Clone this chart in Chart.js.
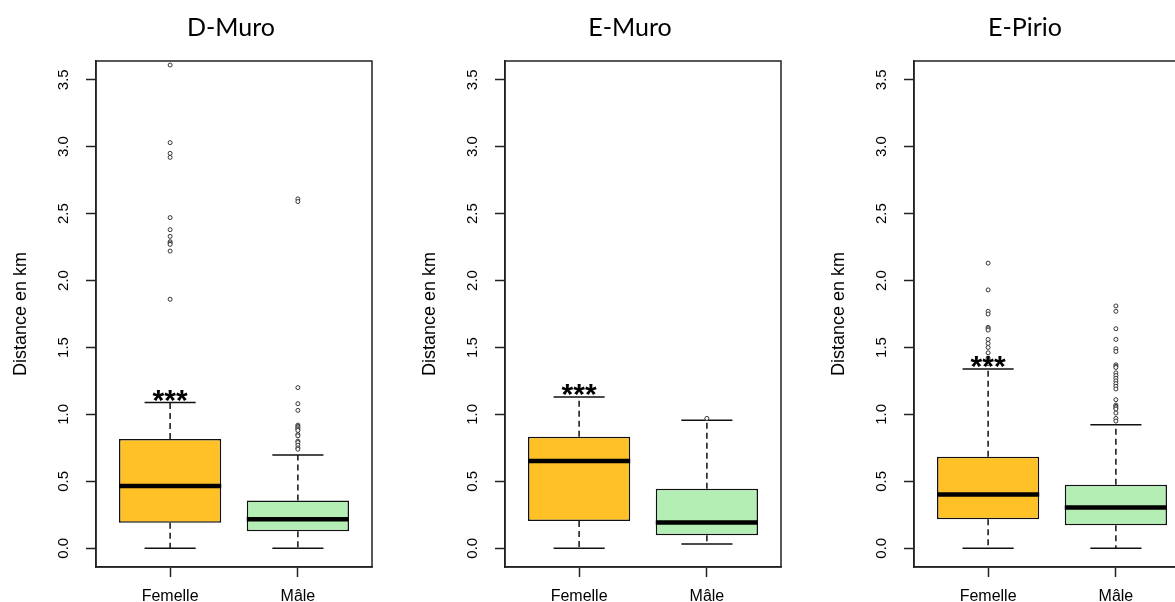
<!DOCTYPE html>
<html>
<head>
<meta charset="utf-8">
<title>Distance en km</title>
<script src="https://cdn.jsdelivr.net/npm/chart.js@4.4.1/dist/chart.umd.min.js"></script>
<style>
  html, body { margin: 0; padding: 0; background: #fff; overflow: hidden; width: 1175px; height: 602px; }
  canvas { position: absolute; top: 0; }
</style>
</head>
<body>
<canvas id="c0" width="409" height="602" style="left:0px"></canvas>
<canvas id="c1" width="409" height="602" style="left:409px"></canvas>
<canvas id="c2" width="409" height="602" style="left:818px"></canvas>
<script>
// donnees
const sites = ['D-Muro', 'E-Muro', 'E-Pirio'];
const categories = ['Femelle', 'Mâle'];
const yTicks = [0, 0.5, 1, 1.5, 2, 2.5, 3, 3.5];
const signif = ['***', '***', '***'];

// [moustache basse, Q1, mediane, Q3, moustache haute]
const dMuroFemelle = [0, 0.19, 0.466, 0.816, 1.088];
const dMuroMale = [0, 0.127, 0.217, 0.357, 0.696];
const eMuroFemelle = [0, 0.204, 0.651, 0.833, 1.13];
const eMuroMale = [0.032, 0.097, 0.192, 0.444, 0.956];
const ePirioFemelle = [0, 0.217, 0.402, 0.684, 1.34];
const ePirioMale = [0, 0.172, 0.305, 0.474, 0.923];

// valeurs extremes
const dMuroFemelleOut = [3.61, 3.03, 2.95, 2.92, 2.47, 2.38, 2.33, 2.29, 2.28, 2.27, 2.22, 1.86];
const dMuroMaleOut = [2.61, 2.59, 1.20, 1.08, 1.03, 0.92, 0.91, 0.90, 0.89, 0.88, 0.85, 0.84, 0.80, 0.79, 0.77, 0.75, 0.74];
const eMuroFemelleOut = [];
const eMuroMaleOut = [0.97];
const ePirioFemelleOut = [2.13, 1.93, 1.77, 1.75, 1.65, 1.64, 1.63, 1.56, 1.53, 1.50, 1.46, 1.42, 1.38];
const ePirioMaleOut = [1.81, 1.77, 1.64, 1.56, 1.49, 1.47, 1.37, 1.36, 1.35, 1.31, 1.29, 1.27, 1.25, 1.23, 1.21, 1.19, 1.11, 1.07, 1.06, 1.05, 1.04, 1.01, 0.97, 0.95];

const boxColors = ['#FFC125', '#B4EEB4'];
const BOX_HALF = 0.4;
const CAP_HALF = 0.2;

Chart.defaults.font.family = '"Liberation Sans", Arial, sans-serif';
Chart.defaults.color = '#000';

const gap = (i) => ({ x: i + 1.5, y: null });

function medianPts(stats) {
  return stats.flatMap((s, i) => [{ x: i + 1 - BOX_HALF, y: s[2] }, { x: i + 1 + BOX_HALF, y: s[2] }, gap(i)]);
}
function whiskerPts(stats) {
  return stats.flatMap((s, i) => [
    { x: i + 1, y: s[3] }, { x: i + 1, y: s[4] }, gap(i),
    { x: i + 1, y: s[1] }, { x: i + 1, y: s[0] }, gap(i)
  ]);
}
function capPts(stats) {
  return stats.flatMap((s, i) => [
    { x: i + 1 - CAP_HALF, y: s[4] }, { x: i + 1 + CAP_HALF, y: s[4] }, gap(i),
    { x: i + 1 - CAP_HALF, y: s[0] }, { x: i + 1 + CAP_HALF, y: s[0] }, gap(i)
  ]);
}
function outlierPts(outs) {
  return outs.flatMap((o, i) => o.map(v => ({ x: i + 1, y: v })));
}

// cadre autour de la zone de trace
const frame = {
  id: 'frame',
  afterDatasetsDraw(chart) {
    const a = chart.chartArea, ctx = chart.ctx;
    ctx.save();
    ctx.strokeStyle = '#222';
    ctx.lineWidth = 1.5;
    ctx.strokeRect(a.left, a.top, a.right - a.left, a.bottom - a.top);
    ctx.restore();
  }
};

// etoiles de significativite + titre du site
const labels = {
  id: 'labels',
  afterDraw(chart, args, opts) {
    const ctx = chart.ctx;
    const xs = chart.scales.x, ys = chart.scales.y;
    ctx.save();
    ctx.fillStyle = '#000';
    ctx.textAlign = 'center';
    ctx.textBaseline = 'alphabetic';
    ctx.font = 'bold 30px "Liberation Sans", Arial';
    ctx.fillText(opts.stars, xs.getPixelForValue(1), ys.getPixelForValue(opts.starAt) + 7);
    ctx.font = '25px Lato, "Open Sans", sans-serif';
    ctx.fillText(opts.title, opts.titleX, 36);
    ctx.restore();
  }
};

function makePanel(id, k, fem, male, femOut, maleOut, titleX) {
  const stats = [fem, male];
  return new Chart(document.getElementById(id), {
    type: 'bar',
    data: {
      datasets: [
        {
          type: 'bar',
          data: stats.map((s, i) => ({ x: i + 1, y: [s[1], s[3]] })),
          backgroundColor: boxColors,
          borderColor: '#111',
          borderWidth: 1.5,
          borderSkipped: false,
          barPercentage: 2 * BOX_HALF,
          categoryPercentage: 1,
          order: 3
        },
        {
          type: 'line',
          data: whiskerPts(stats),
          borderColor: '#111',
          borderWidth: 1.5,
          borderDash: [6, 4],
          pointRadius: 0,
          spanGaps: false,
          order: 4
        },
        {
          type: 'line',
          data: capPts(stats),
          borderColor: '#111',
          borderWidth: 1.5,
          pointRadius: 0,
          spanGaps: false,
          order: 2
        },
        {
          type: 'line',
          data: medianPts(stats),
          borderColor: '#000',
          borderWidth: 4.5,
          pointRadius: 0,
          spanGaps: false,
          order: 1
        },
        {
          type: 'scatter',
          data: outlierPts([femOut, maleOut]),
          pointRadius: 2,
          pointBorderWidth: 1,
          pointBorderColor: '#333',
          pointBackgroundColor: '#fff',
          order: 0
        }
      ]
    },
    options: {
      responsive: false,
      animation: false,
      layout: { padding: { top: 61, right: 37, bottom: 0, left: 0 } },
      plugins: {
        legend: { display: false },
        tooltip: { enabled: false },
        labels: { stars: signif[k], starAt: fem[4], title: sites[k], titleX: titleX }
      },
      scales: {
        x: {
          type: 'linear',
          min: 0.42,
          max: 2.58,
          offset: false,
          afterBuildTicks: (s) => { s.ticks = categories.map((c, i) => ({ value: i + 1 })); },
          afterFit: (s) => { s.height = 35; },
          ticks: {
            callback: (v, i) => categories[i],
            font: { size: 16 },
            padding: 10,
            maxRotation: 0
          },
          grid: { drawOnChartArea: false, offset: false, tickLength: 10, color: '#222', tickWidth: 1.5 },
          border: { display: true, color: '#222', width: 1.5 }
        },
        y: {
          min: -0.14,
          max: 3.64,
          afterBuildTicks: (s) => { s.ticks = yTicks.map(v => ({ value: v })); },
          afterFit: (s) => { s.width = 96; },
          ticks: {
            callback: (v) => v.toFixed(1),
            font: { size: 15 },
            minRotation: 90,
            maxRotation: 90,
            crossAlign: 'center',
            padding: 12
          },
          grid: { drawOnChartArea: false, tickLength: 10, color: '#222', tickWidth: 1.5 },
          border: { display: true, color: '#222', width: 1.5 },
          title: { display: true, text: 'Distance en km', font: { size: 18 }, padding: { top: 10, bottom: 0 } }
        }
      }
    },
    plugins: [frame, labels]
  });
}

makePanel('c0', 0, dMuroFemelle, dMuroMale, dMuroFemelleOut, dMuroMaleOut, 231);
makePanel('c1', 1, eMuroFemelle, eMuroMale, eMuroFemelleOut, eMuroMaleOut, 221);
makePanel('c2', 2, ePirioFemelle, ePirioMale, ePirioFemelleOut, ePirioMaleOut, 207);
</script>
</body>
</html>
